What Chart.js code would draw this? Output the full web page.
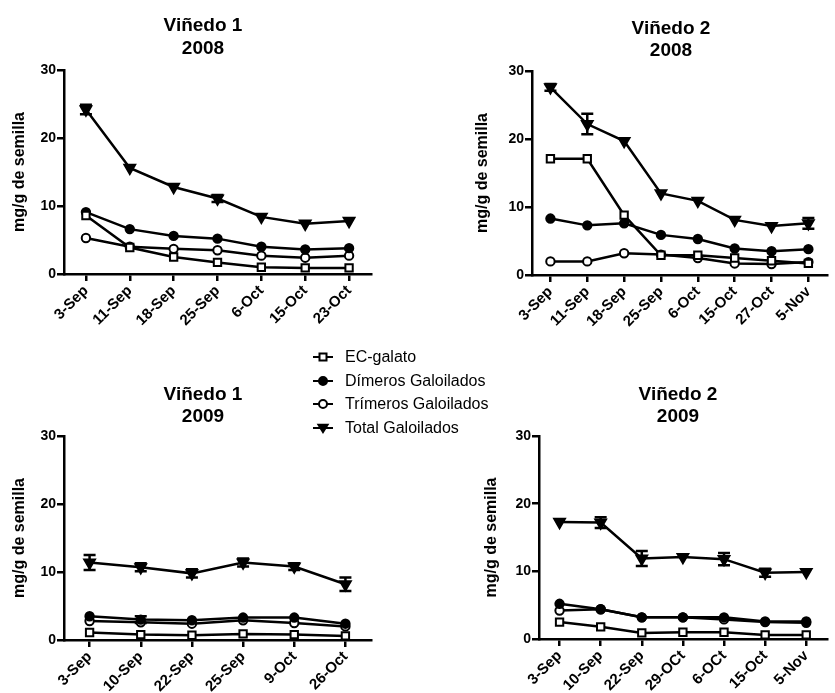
<!DOCTYPE html>
<html><head><meta charset="utf-8">
<script src="https://cdn.jsdelivr.net/npm/chart.js@4.4.1/dist/chart.umd.min.js"></script>
<style>
html,body{margin:0;padding:0;background:#fff;}
#wrap{position:relative;width:835px;height:693px;overflow:hidden;font-family:"Liberation Sans",Arial,sans-serif;}
canvas{position:absolute;}
#legend{position:absolute;left:311px;top:345px;font-size:16px;color:#000;line-height:1;}
.row{display:flex;align-items:center;height:23.7px;white-space:nowrap;}
.row svg{margin-right:10px;flex:none;}
</style></head>
<body>
<div id="wrap">
<canvas id="c1" width="417" height="340" style="left:0;top:0;width:417px;height:340px"></canvas>
<canvas id="c2" width="418" height="340" style="left:417px;top:0;width:418px;height:340px"></canvas>
<canvas id="c3" width="417" height="353" style="left:0;top:340px;width:417px;height:353px"></canvas>
<canvas id="c4" width="418" height="353" style="left:417px;top:340px;width:418px;height:353px"></canvas>
<div id="legend"></div>
</div>
<script>
// ---- Data ----
const seriesNames = ['EC-galato', 'Dímeros Galoilados', 'Trímeros Galoilados', 'Total Galoilados'];
const yTicks = [0, 10, 20, 30];
const yAxisTitle = 'mg/g de semilla';

// Viñedo 1 – 2008
const labelsV1_2008 = ['3-Sep', '11-Sep', '18-Sep', '25-Sep', '6-Oct', '15-Oct', '23-Oct'];
const ecV1_2008  = [8.6, 3.9, 2.5, 1.7, 1.0, 0.9, 0.9];
const dimV1_2008 = [9.1, 6.6, 5.6, 5.2, 4.0, 3.6, 3.8];
const triV1_2008 = [5.3, 4.0, 3.7, 3.5, 2.7, 2.4, 2.7];
const totV1_2008 = [24.2, 15.6, 12.8, 11.1, 8.4, 7.4, 7.8];
const totErrV1_2008 = [0.7, 0, 0, 0.5, 0, 0, 0];

// Viñedo 2 – 2008
const labelsV2_2008 = ['3-Sep', '11-Sep', '18-Sep', '25-Sep', '6-Oct', '15-Oct', '27-Oct', '5-Nov'];
const ecV2_2008  = [17.1, 17.1, 8.8, 2.9, 2.9, 2.5, 2.1, 1.7];
const dimV2_2008 = [8.3, 7.3, 7.6, 5.9, 5.3, 3.9, 3.5, 3.8];
const triV2_2008 = [2.0, 2.0, 3.2, 3.0, 2.5, 1.7, 1.6, 1.9];
const totV2_2008 = [27.6, 22.2, 19.7, 12.0, 10.9, 8.1, 7.2, 7.6];
const totErrV2_2008 = [0.5, 1.5, 0, 0, 0, 0, 0, 0.8];

// Viñedo 1 – 2009
const labelsV1_2009 = ['3-Sep', '10-Sep', '22-Sep', '25-Sep', '9-Oct', '26-Oct'];
const ecV1_2009  = [1.1, 0.8, 0.7, 0.9, 0.8, 0.6];
const dimV1_2009 = [3.5, 3.0, 2.9, 3.3, 3.3, 2.4];
const triV1_2009 = [2.8, 2.6, 2.4, 2.9, 2.5, 2.0];
const totV1_2009 = [11.4, 10.7, 9.8, 11.4, 10.8, 8.2];
const totErrV1_2009 = [1.1, 0.6, 0.6, 0.6, 0.5, 1.0];
const dimErrV1_2009 = [0, 0.5, 0, 0, 0, 0];

// Viñedo 2 – 2009
const labelsV2_2009 = ['3-Sep', '10-Sep', '22-Sep', '29-OCt', '6-OCt', '15-Oct', '5-Nov'];
const ecV2_2009  = [2.5, 1.8, 0.9, 1.0, 1.0, 0.6, 0.6];
const dimV2_2009 = [5.2, 4.4, 3.2, 3.2, 3.2, 2.6, 2.6];
const triV2_2009 = [4.2, 4.4, 3.2, 3.2, 2.9, 2.5, 2.4];
const totV2_2009 = [17.3, 17.2, 11.9, 12.1, 11.8, 9.8, 9.9];
const totErrV2_2009 = [0, 0.8, 1.1, 0, 0.9, 0.6, 0];

// ---- Styling ----
const FONT = '"Liberation Sans", Arial, Helvetica, sans-serif';
const markerStyles = [
  {pointStyle: 'rect', pointRadius: 5.2, pointBackgroundColor: '#fff', rotation: 0},
  {pointStyle: 'circle', pointRadius: 4.2, pointBackgroundColor: '#000', rotation: 0},
  {pointStyle: 'circle', pointRadius: 4.2, pointBackgroundColor: '#fff', rotation: 0},
  {pointStyle: 'triangle', pointRadius: 6.2, pointBackgroundColor: '#000', rotation: 180}
];

const panelTitlePlugin = {
  id: 'panelTitle',
  afterDraw(chart, args, opts) {
    const ctx = chart.ctx;
    ctx.save();
    ctx.fillStyle = '#000';
    ctx.font = 'bold 19px ' + FONT;
    ctx.textAlign = 'center';
    ctx.textBaseline = 'alphabetic';
    opts.lines.forEach((t, i) => ctx.fillText(t, opts.x, opts.baselines[i]));
    ctx.restore();
  }
};

const errorBarPlugin = {
  id: 'errorBars',
  beforeDatasetsDraw(chart) {
    const ctx = chart.ctx;
    const ys = chart.scales.y;
    ctx.save();
    ctx.strokeStyle = '#000';
    ctx.lineWidth = 2.5;
    chart.data.datasets.forEach((ds, di) => {
      if (!ds.errors) return;
      const meta = chart.getDatasetMeta(di);
      ds.errors.forEach((e, i) => {
        if (!e) return;
        const p = meta.data[i];
        const v = ds.data[i];
        const yt = ys.getPixelForValue(v + e);
        const yb = ys.getPixelForValue(v - e);
        const cw = 6;
        ctx.beginPath();
        ctx.moveTo(p.x, yt); ctx.lineTo(p.x, yb);
        ctx.moveTo(p.x - cw, yt); ctx.lineTo(p.x + cw, yt);
        ctx.moveTo(p.x - cw, yb); ctx.lineTo(p.x + cw, yb);
        ctx.stroke();
      });
    });
    ctx.restore();
  }
};

function makePanel(id, labels, series, errs, geo) {
  const canvas = document.getElementById(id);
  const W = canvas.width, H = canvas.height;
  const datasets = series.map((d, k) => Object.assign({
    label: seriesNames[k],
    data: d,
    errors: errs[k] || null,
    borderColor: '#000',
    borderWidth: 2.5,
    pointBorderColor: '#000',
    pointBorderWidth: 2,
    tension: 0,
    fill: false
  }, markerStyles[k]));
  return new Chart(canvas, {
    type: 'line',
    data: {labels: labels, datasets: datasets},
    plugins: [panelTitlePlugin, errorBarPlugin],
    options: {
      responsive: false,
      animation: false,
      devicePixelRatio: 1,
      layout: {padding: {left: 0, top: geo.top, right: W - geo.right, bottom: 0}},
      plugins: {
        legend: {display: false},
        tooltip: {enabled: false},
        title: {display: false},
        panelTitle: {lines: geo.title, x: geo.titleX, baselines: geo.titleY}
      },
      scales: {
        x: {
          type: 'category',
          offset: true,
          grid: {drawOnChartArea: false, drawTicks: true, tickLength: 7, color: '#000', lineWidth: 2.5, offset: false},
          border: {display: true, color: '#000', width: 2.5},
          ticks: {color: '#000', font: {family: FONT, size: 15, weight: 'bold'}, minRotation: 45, maxRotation: 45, autoSkip: false, padding: 1},
          afterFit(s) { s.height = H - geo.bottom; }
        },
        y: {
          min: yTicks[0], max: yTicks[yTicks.length - 1],
          afterBuildTicks(s) { s.ticks = yTicks.map(v => ({value: v})); },
          grid: {drawOnChartArea: false, drawTicks: true, tickLength: 7, color: '#000', lineWidth: 2.5},
          border: {display: true, color: '#000', width: 2.5},
          ticks: {color: '#000', font: {family: FONT, size: 14, weight: 'bold'}, padding: 1},
          title: {display: true, text: yAxisTitle, color: '#000', font: {family: FONT, size: 16, weight: 'bold'}, padding: {top: geo.yTitlePad, bottom: 0}},
          afterFit(s) { s.width = geo.left; }
        }
      }
    }
  });
}

makePanel('c1', labelsV1_2008, [ecV1_2008, dimV1_2008, triV1_2008, totV1_2008], [null, null, null, totErrV1_2008],
  {left: 64, right: 371, top: 70, bottom: 274, title: ['Viñedo 1', '2008'], titleX: 203, titleY: [31, 54], yTitlePad: 10});
makePanel('c2', labelsV2_2008, [ecV2_2008, dimV2_2008, triV2_2008, totV2_2008], [null, null, null, totErrV2_2008],
  {left: 115, right: 418, top: 71, bottom: 275, title: ['Viñedo 2', '2008'], titleX: 254, titleY: [34, 56], yTitlePad: 56});
makePanel('c3', labelsV1_2009, [ecV1_2009, dimV1_2009, triV1_2009, totV1_2009], [null, dimErrV1_2009, null, totErrV1_2009],
  {left: 64, right: 371, top: 96, bottom: 300, title: ['Viñedo 1', '2009'], titleX: 203, titleY: [60, 82], yTitlePad: 10});
makePanel('c4', labelsV2_2009, [ecV2_2009, dimV2_2009, triV2_2009, totV2_2009], [null, null, null, totErrV2_2009],
  {left: 122, right: 418, top: 96, bottom: 299, title: ['Viñedo 2', '2009'], titleX: 261, titleY: [60, 82], yTitlePad: 65});

// ---- Legend ----
function legendSymbol(k) {
  const m = markerStyles[k];
  let shape = '';
  if (m.pointStyle === 'rect') shape = '<rect x="8.5" y="4.5" width="7" height="7" fill="#fff" stroke="#000" stroke-width="2"/>';
  else if (m.pointStyle === 'circle') shape = '<circle cx="12" cy="8" r="4" fill="' + m.pointBackgroundColor + '" stroke="#000" stroke-width="2"/>';
  else shape = '<polygon points="7,4.5 17,4.5 12,12.5" fill="#000" stroke="#000" stroke-width="1.5"/>';
  return '<svg width="24" height="16" viewBox="0 0 24 16"><line x1="2" y1="8" x2="22" y2="8" stroke="#000" stroke-width="2"/>' + shape + '</svg>';
}
document.getElementById('legend').innerHTML = seriesNames.map((n, k) =>
  '<div class="row">' + legendSymbol(k) + '<span>' + n + '</span></div>').join('');
</script>
</body></html>
